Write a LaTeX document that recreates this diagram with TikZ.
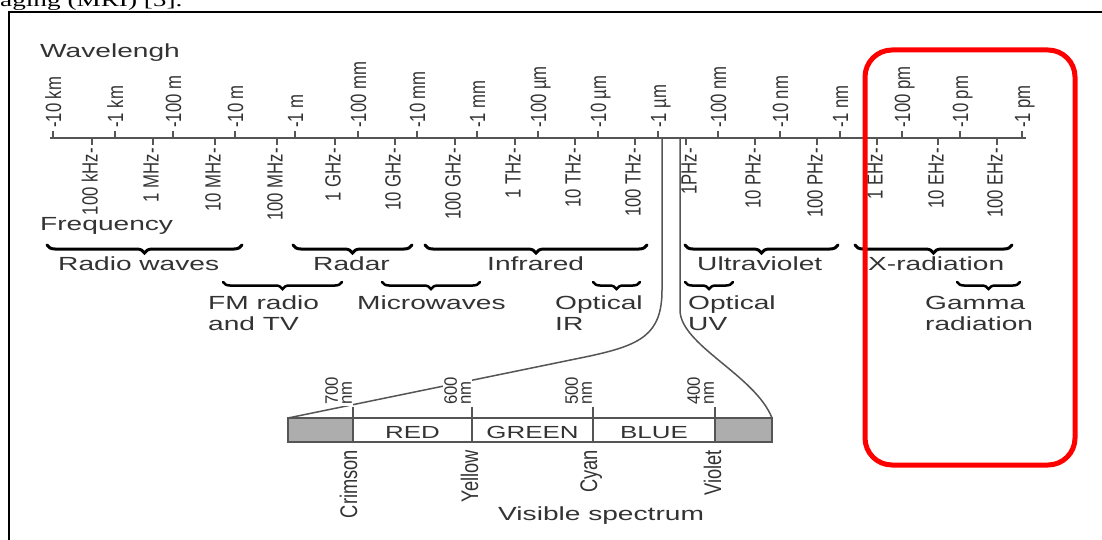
\documentclass[tikz,border=0pt]{standalone}
\usepackage{fontspec}
\setmainfont{Liberation Sans}
\newfontfamily\hfont[FakeStretch=1.48]{Liberation Sans}
\newfontfamily\vfont[FakeStretch=0.76]{Liberation Sans}
\newfontfamily\bvfont[FakeStretch=0.93]{Liberation Sans}
\newfontfamily\serfont[FakeStretch=1.48]{Liberation Serif}
\usetikzlibrary{decorations.pathreplacing}
\definecolor{txt}{HTML}{333333}
\definecolor{ln}{HTML}{555555}
\definecolor{boxgray}{HTML}{ADADAD}
\begin{document}
\begin{tikzpicture}[x=1pt,y=-1pt,
  hlab/.style={font=\hfont\fontsize{19}{21}\selectfont, text=txt, inner sep=0pt, anchor=base west},
  boxlab/.style={font=\hfont\fontsize{17.5}{19}\selectfont, text=txt, inner sep=0pt, anchor=base},
  wlab/.style={font=\vfont\fontsize{22}{24}\selectfont, text=txt, inner sep=0pt, rotate=90, anchor=base west},
  flab/.style={font=\vfont\fontsize{22}{24}\selectfont, text=txt, inner sep=0pt, rotate=90, anchor=base east},
  nmlab/.style={font=\bvfont\fontsize{18}{14}\selectfont, text=txt, inner sep=1pt, fill=white, rotate=90, anchor=south west, align=left},
  collab/.style={font=\vfont\fontsize{24}{26}\selectfont, text=txt, inner sep=0pt, rotate=90, anchor=base east},
  bracea/.style={decorate, decoration={brace, mirror, amplitude=8pt}, line width=3pt, black, line cap=round},
  braceb/.style={decorate, decoration={brace, mirror, amplitude=7pt}, line width=2.5pt, black, line cap=round},
  tickc/.style={ln, line width=1.3pt},
  axisc/.style={ln, line width=1.5pt},
  funnel/.style={ln, line width=1.5pt},
  seg/.style={draw=ln, line width=1.5pt, minimum height=24pt, inner sep=0pt, outer sep=0pt}
]
\useasboundingbox (0,0) rectangle (1102,540);
\fill[white] (0,0) rectangle (1102,540);

% caption fragment and frame
\node[font=\serfont\fontsize{18.4}{20}\selectfont, anchor=base west, inner sep=0pt] (cap) at (0,7) {aging (MRI) [5].};
\draw[black, line width=2.5pt] (9,560) -- (9,12) -- (1110,12);

% axis
\coordinate (axL) at (50,138);
\coordinate (axR) at (1026,138);
\draw[axisc] (axL) -- (axR);

\node[hlab] (wavel) at (40,58) {Wavelengh};
\node[hlab] (freq) at (40,230) {Frequency};

\foreach \x/\t [count=\i] in {53/{-10 km},115/{-1 km},173/{-100 m},235/{-10 m},295/{-1 m},358/{-100 mm},417/{-10 mm},477/{-1 mm},538/{-100 µm},598/{-10 µm},658/{-1 µm},718/{-100 nm},780/{-10 nm},840/{-1 nm},902/{-100 pm},960/{-10 pm},1022/{-1 pm}} {
  \draw[tickc] (\x,131) -- (\x,139);
  \node[wlab] (wl\i) at (\x+8,128) {\t};
}
\foreach \x/\d/\t [count=\i] in {92/0/{100 kHz-},153/0/{1 MHz-},215/0/{10 MHz-},277/0/{100 MHz-},335/0/{1 GHz-},395/0/{10 GHz-},455/0/{100 GHz-},515/0/{1 THz-},575/0/{10 THz-},635/0/{100 THz-},686/5/{1PHz-},755/0/{10 PHz-},817/0/{100 PHz-},877/0/{1 EHz-},938/0/{10 EHz-},997/0/{100 EHz-}} {
  \draw[tickc] (\x,138) -- (\x,145);
  \node[flab] (fr\i) at (\x+5.5+\d,148) {\t};
}

% braces row 1
\draw[bracea] (47,245) -- (242,245);
\draw[bracea] (293,245) -- (412,245);
\draw[bracea] (425,245) -- (647,245);
\draw[bracea] (685,245) -- (838,245);
\draw[bracea] (855,245) -- (1012,245);
% braces row 2
\draw[braceb] (223,282) -- (342,282);
\draw[braceb] (382,282) -- (480,282);
\draw[braceb] (593,282) -- (640,282);
\draw[braceb] (685,282) -- (733,282);
\draw[braceb] (957,282) -- (1020,282);

\node[hlab] (radio) at (58,270) {Radio waves};
\node[hlab] (radar) at (313,270) {Radar};
\node[hlab] (ir) at (487,270) {Infrared};
\node[hlab] (uv) at (697,270) {Ultraviolet};
\node[hlab] (xr) at (868,270) {X-radiation};

\node[hlab] (fm1) at (208,309) {FM radio};
\node[hlab] (fm2) at (208,330) {and TV};
\node[hlab] (mw) at (357,309) {Microwaves};
\node[hlab] (oir1) at (555,309) {Optical};
\node[hlab] (oir2) at (555,330) {IR};
\node[hlab] (ouv1) at (688,309) {Optical};
\node[hlab] (ouv2) at (688,330) {UV};
\node[hlab] (gam1) at (925,309) {Gamma};
\node[hlab] (gam2) at (925,330) {radiation};

% visible spectrum box
\node[seg, fill=boxgray, minimum width=65pt] (g1) at (320.5,430) {};
\node[seg, fill=white, minimum width=119pt] (cr) at (412.5,430) {};
\node[seg, fill=white, minimum width=121pt] (cg) at (532.5,430) {};
\node[seg, fill=white, minimum width=122pt] (cb) at (654,430) {};
\node[seg, fill=boxgray, minimum width=57pt] (g2) at (743.5,430) {};
\node[boxlab] (red) at (cr.center |- 0,438) {RED};
\node[boxlab] (green) at (cg.center |- 0,438) {GREEN};
\node[boxlab] (blue) at (cb.center |- 0,438) {BLUE};
\foreach \n in {g1.north east, cr.north east, cg.north east, cb.north east} {
  \draw[ln, line width=1.5pt] (\n) -- ++(0,-11);
}

% funnel lines from 1 um
\coordinate (umL) at (662,138);
\coordinate (umR) at (680,138);
\draw[funnel] (umL) -- (662,290) .. controls (662,335) and (640,345) .. (590,356) -- (g1.north west);
\draw[funnel] (umR) -- (680,310) .. controls (680,345) and (755,375) .. (g2.north east);

% nm labels
\node[nmlab] (n700) at (g1.north east |- 0,406) {700\\nm};
\node[nmlab] (n600) at (cr.north east |- 0,406) {600\\nm};
\node[nmlab] (n500) at (cg.north east |- 0,406) {500\\nm};
\node[nmlab] (n400) at (cb.north east |- 0,406) {400\\nm};

% colour names
\node[collab] (crim) at (357,450) {Crimson};
\node[collab] (yel) at (478,450) {Yellow};
\node[collab] (cyan) at (597,450) {Cyan};
\node[collab] (viol) at (721,450) {Violet};
\node[hlab] (vis) at (498,520) {Visible spectrum};

% red highlight
\draw[red, line width=5pt, rounded corners=27pt] (865,50) rectangle (1075,465);
\end{tikzpicture}
\end{document}
